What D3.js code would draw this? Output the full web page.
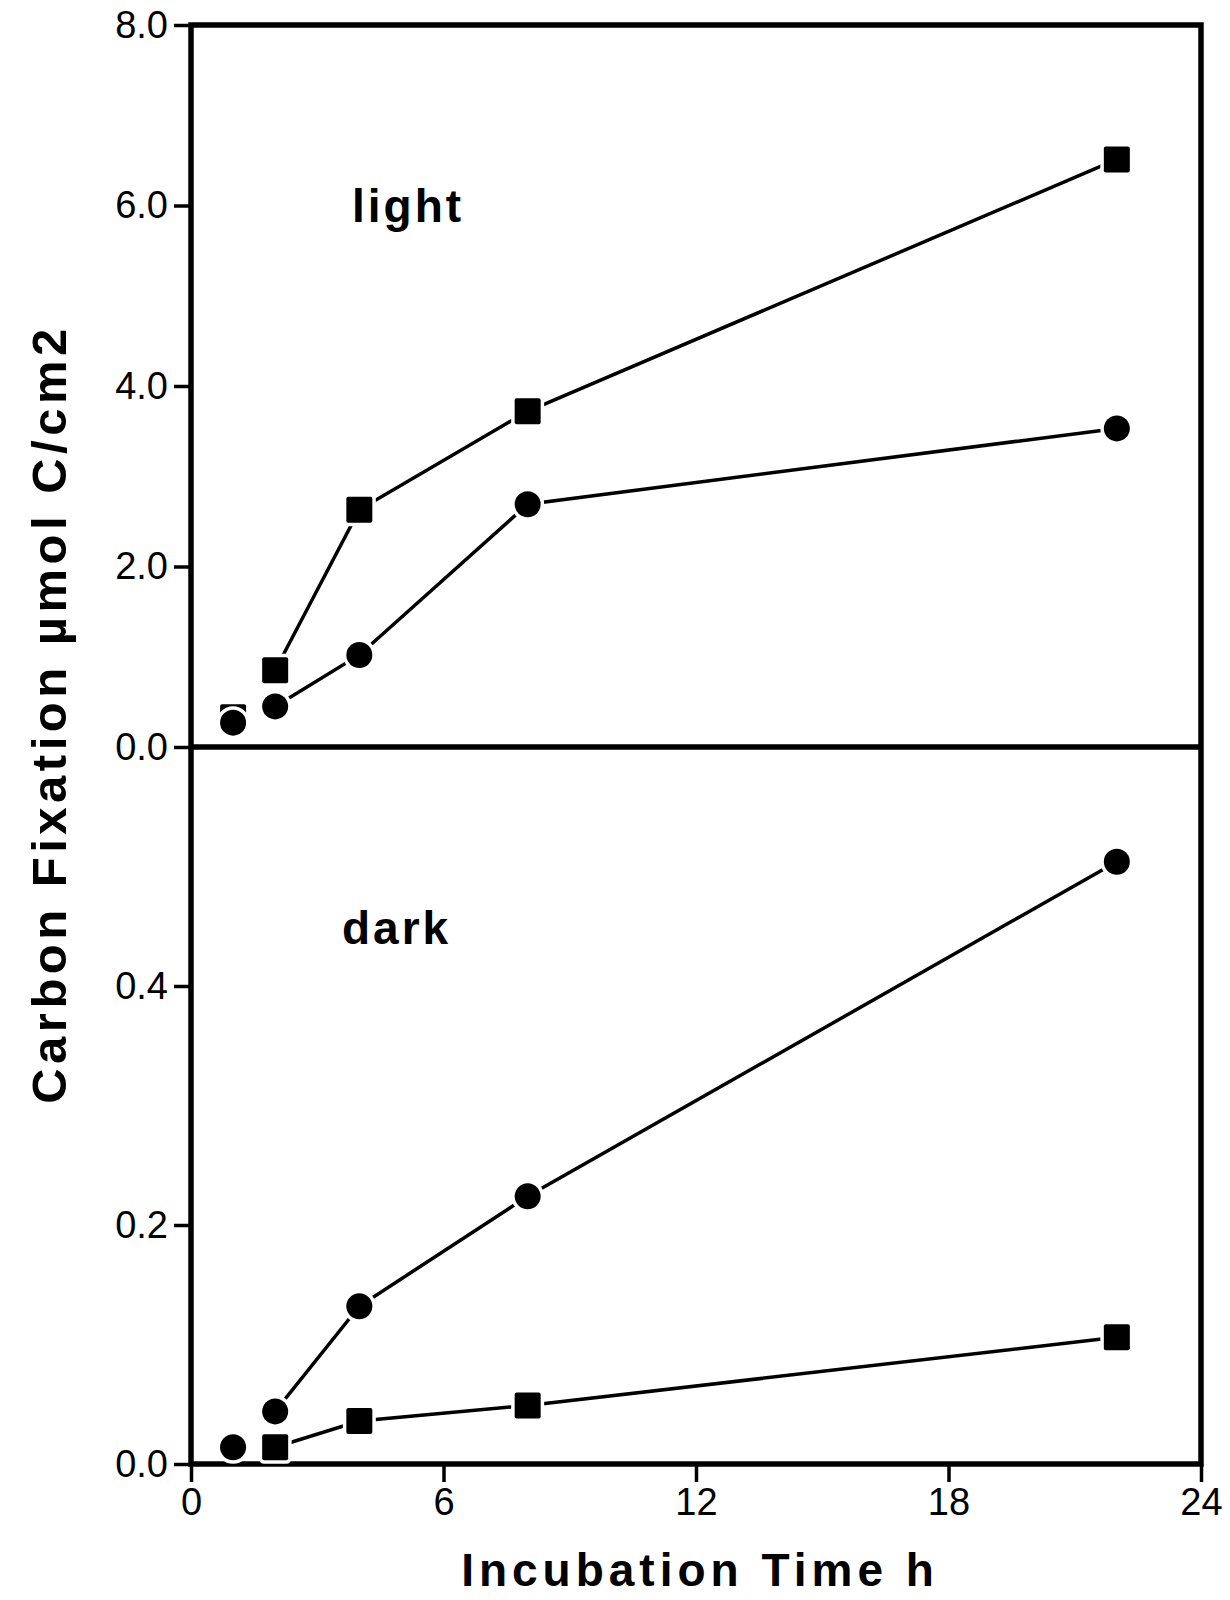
<!DOCTYPE html>
<html>
<head>
<meta charset="utf-8">
<script src="https://cdn.jsdelivr.net/npm/d3@7"></script>
<style>
  body { margin: 0; background: #fff; }
  svg text { font-family: "Liberation Sans", Arial, sans-serif; fill: #000; }
</style>
</head>
<body>
<div id="chart"></div>
<script>
// Incubation times (h)
const hours = [1, 2, 4, 8, 22];

// Light incubation (umol C/cm2)
const lightCircle = [0.27, 0.45, 1.02, 2.69, 3.53];
const lightSquare = [0.33, 0.85, 2.63, 3.72, 6.51];

// Dark incubation (umol C/cm2)
const darkCircle = [0.014, 0.044, 0.132, 0.224, 0.504];
const darkSquareHours = [2, 4, 8, 22];
const darkSquare = [0.014, 0.036, 0.049, 0.106];

// Tick values
const xTicks = [0, 6, 12, 18, 24];
const topTicks = [0, 2, 4, 6, 8];
const bottomTicks = [0, 0.2, 0.4];

let width = 1230, height = 1600;

let svg = d3.select("#chart")
            .append("svg")
            .attr("width", width)
            .attr("height", height);

// Scales
let x = d3.scaleLinear()
          .domain([0, 24])
          .range([191, 1201]);

let yTop = d3.scaleLinear()
             .domain([0, 8])
             .range([747, 25]);

let yBot = d3.scaleLinear()
             .domain([0, 0.6])
             .range([1464, 747]);

// Frame
svg.append("rect")
   .attr("x", x(0))
   .attr("y", yTop(8))
   .attr("width", x(24) - x(0))
   .attr("height", yBot(0) - yTop(8))
   .attr("fill", "none")
   .attr("stroke", "#000")
   .attr("stroke-width", 5.5);

// Divider between the panels
svg.append("line")
   .attr("x1", x(0))
   .attr("x2", x(24))
   .attr("y1", yTop(0))
   .attr("y2", yTop(0))
   .attr("stroke", "#000")
   .attr("stroke-width", 5.5);

// Axes
function styleAxis(g) {
   g.select(".domain").remove();
   g.selectAll(".tick line").attr("stroke", "#000").attr("stroke-width", 3.5);
   g.selectAll(".tick text").style("font-size", "38px").attr("fill", "#000");
}

svg.append("g")
   .attr("transform", `translate(${x(0)}, 0)`)
   .call(d3.axisLeft(yTop).tickValues(topTicks).tickSize(17).tickPadding(6)
           .tickFormat(d3.format(".1f")))
   .call(styleAxis);

svg.append("g")
   .attr("transform", `translate(${x(0)}, 0)`)
   .call(d3.axisLeft(yBot).tickValues(bottomTicks).tickSize(17).tickPadding(6)
           .tickFormat(d3.format(".1f")))
   .call(styleAxis);

svg.append("g")
   .attr("transform", `translate(0, ${yBot(0)})`)
   .call(d3.axisBottom(x).tickValues(xTicks).tickSize(18).tickPadding(6)
           .tickFormat(d3.format("d")))
   .call(styleAxis);

// Series (the 1 h points are not joined to the line)
function drawSeries(xs, ys, yScale, shape) {
   let pts = xs.map((h, i) => ({h: h, v: ys[i]}));

   svg.append("path")
      .datum(pts.filter(d => d.h >= 2))
      .attr("fill", "none")
      .attr("stroke", "#000")
      .attr("stroke-width", 3.5)
      .attr("d", d3.line().x(d => x(d.h)).y(d => yScale(d.v)));

   if (shape === "circle") {
      svg.selectAll(null)
         .data(pts)
         .enter()
         .append("circle")
         .attr("cx", d => x(d.h))
         .attr("cy", d => yScale(d.v))
         .attr("r", 13)
         .attr("fill", "#000")
         .attr("stroke", "#fff")
         .attr("stroke-width", 7)
         .attr("paint-order", "stroke");
   } else {
      let s = 26;
      svg.selectAll(null)
         .data(pts)
         .enter()
         .append("rect")
         .attr("x", d => x(d.h) - s / 2)
         .attr("y", d => yScale(d.v) - s / 2)
         .attr("width", s)
         .attr("height", s)
         .attr("rx", 2)
         .attr("fill", "#000")
         .attr("stroke", "#fff")
         .attr("stroke-width", 7)
         .attr("paint-order", "stroke");
   }
}

drawSeries(hours, lightSquare, yTop, "square");
drawSeries(hours, lightCircle, yTop, "circle");
drawSeries(darkSquareHours, darkSquare, yBot, "square");
drawSeries(hours, darkCircle, yBot, "circle");

// Panel labels
svg.append("text")
   .attr("x", 352)
   .attr("y", 222)
   .style("font-size", "46px")
   .style("font-weight", "bold")
   .style("letter-spacing", "3px")
   .text("light");

svg.append("text")
   .attr("x", 342)
   .attr("y", 944)
   .style("font-size", "46px")
   .style("font-weight", "bold")
   .style("letter-spacing", "3px")
   .text("dark");

// Axis titles
svg.append("text")
   .attr("transform", "rotate(-90)")
   .attr("x", -714)
   .attr("y", 66)
   .style("text-anchor", "middle")
   .style("font-size", "49px")
   .style("font-weight", "bold")
   .style("letter-spacing", "4.5px")
   .text("Carbon Fixation µmol C/cm2");

svg.append("text")
   .attr("x", 700)
   .attr("y", 1586)
   .style("text-anchor", "middle")
   .style("font-size", "46px")
   .style("font-weight", "bold")
   .style("letter-spacing", "5px")
   .text("Incubation Time h");
</script>
</body>
</html>
